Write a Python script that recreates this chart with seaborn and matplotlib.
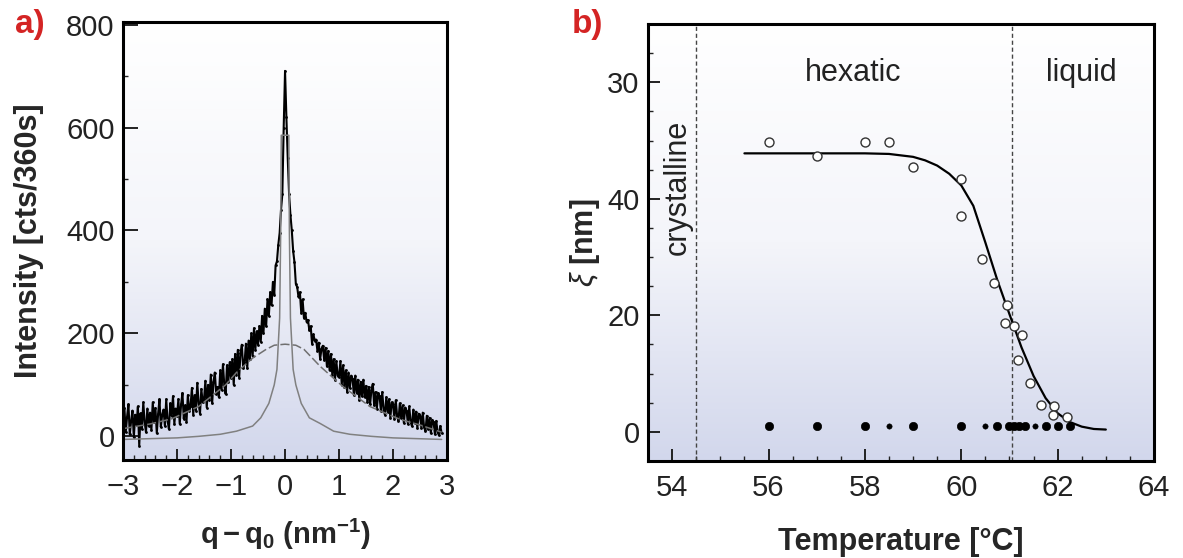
import numpy as np
import pandas as pd
import matplotlib
matplotlib.use("Agg")
import matplotlib.pyplot as plt
from matplotlib.colors import LinearSegmentedColormap
from matplotlib.ticker import MultipleLocator, FixedLocator
import seaborn as sns

# ---- panel a: scattering profile ----
q_start, q_step = -3.0, 0.025
intensity = [
    20, 55, 8, 38, 62, 4, 30, 50, -2, 42,
    22, 58, -18, 45, 14, 66, 28, 8, 54, 20,
    46, 12, 66, 28, 55, 6, 44, 72, 18, 42,
    52, 20, 72, 30, 14, 64, 40, 78, 24, 54,
    40, 72, 24, 62, 84, 34, 60, 28, 80, 50,
    58, 94, 42, 80, 50, 104, 64, 44, 92, 66,
    72, 108, 56, 100, 70, 120, 64, 106, 124, 82,
    96, 76, 128, 90, 140, 100, 82, 138, 106, 144,
    114, 150, 100, 160, 120, 168, 114, 162, 178, 132,
    142, 180, 132, 186, 150, 200, 156, 210, 168, 204,
    178, 214, 184, 234, 200, 248, 214, 266, 234, 280,
    255, 300, 275, 332, 340, 372, 395, 440, 470, 600,
    710, 620, 540, 470, 430, 400, 360, 338, 296, 290,
    270, 280, 240, 266, 230, 240, 222, 226, 206, 214,
    180, 198, 186, 188, 166, 182, 150, 170, 176, 148,
    172, 136, 166, 128, 160, 120, 150, 110, 146, 118,
    116, 146, 100, 138, 96, 128, 86, 124, 94, 118,
    112, 80, 118, 84, 110, 70, 106, 78, 110, 76,
    98, 66, 96, 62, 90, 102, 60, 86, 54, 84,
    78, 50, 86, 52, 42, 76, 48, 72, 36, 66,
    62, 34, 70, 40, 30, 64, 36, 60, 26, 56,
    50, 24, 58, 28, 20, 52, 26, 48, 16, 44,
    40, 16, 46, 18, 10, 40, 14, 36, 6, 32,
    28, 4, 30, 8, 2, 20, 6,
]
q = q_start + q_step * np.arange(len(intensity))

narrow_q = [-3, -2, -1.6, -1.2, -0.9, -0.6, -0.45, -0.3, -0.2, -0.15, -0.1, -0.08, -0.07,
            0.07, 0.08, 0.1, 0.15, 0.2, 0.3, 0.45, 0.65, 0.9, 1.2, 1.6, 2, 2.9]
narrow_I = [-6, -3, 0, 4, 10, 20, 36, 64, 100, 130, 230, 400, 585,
            585, 400, 230, 130, 100, 64, 36, 25, 10, 4, 0, -3, -6]

broad_q = [-3, -2.5, -2.1, -1.6, -1.1, -0.9, -0.6, -0.35, -0.2, 0, 0.2, 0.35, 0.65,
           1.07, 1.57, 2.13, 2.5, 2.9]
broad_I = [15, 24, 34, 58, 100, 124, 152, 169, 177, 179, 177, 169, 136,
           97, 58, 33, 22, 8]

# ---- panel b: correlation length vs temperature ----
open_T = [56.0, 57.0, 58.0, 58.5, 59.0, 60.0, 60.0, 60.43, 60.68, 60.94, 60.9,
          61.1, 61.25, 61.18, 61.43, 61.66, 61.93, 61.9, 62.2]
open_xi = [49.8, 47.4, 49.8, 49.8, 45.4, 43.4, 37.1, 29.6, 25.6, 21.8, 18.7,
           18.1, 16.6, 12.4, 8.4, 4.6, 4.4, 2.9, 2.6]

filled_T = [56.0, 57.0, 58.0, 58.5, 59.0, 60.0, 60.5, 60.75, 61.0, 61.1, 61.2,
            61.33, 61.53, 61.76, 62.0, 62.26]
filled_xi = [1.0] * len(filled_T)
filled_small = [False, False, False, True, False, False, True, False, False, False, False,
                False, True, False, False, False]

fit_T = [55.5, 56, 57, 58, 58.5, 59.0, 59.25, 59.5, 59.75, 60.0, 60.25, 60.5, 60.75,
         61.0, 61.25, 61.5, 61.75, 62.0, 62.25, 62.5, 62.75, 63.0]
fit_xi = [47.8, 47.8, 47.8, 47.8, 47.7, 47.2, 46.6, 45.7, 44.3, 42.3, 38.8, 32.5, 26.0,
          20.2, 14.5, 9.6, 5.8, 3.2, 1.7, 0.9, 0.5, 0.4]

T_crystal, T_liquid = 54.5, 61.05
b_yticks = [0, 20, 40, 60]
b_yticklabels = ["0", "20", "40", "30"]

# ---- style ----
sns.set_theme(style="ticks")
plt.rcParams["font.family"] = ["Liberation Sans", "DejaVu Sans"]
plt.rcParams["mathtext.fontset"] = "custom"
plt.rcParams["mathtext.rm"] = "Liberation Sans"
plt.rcParams["mathtext.bf"] = "Liberation Sans:bold"
plt.rcParams["mathtext.it"] = "Liberation Sans:italic"
plt.rcParams["axes.unicode_minus"] = True

bg = LinearSegmentedColormap.from_list("bg", ["#ffffff", "#f4f5fa", "#d2d7ec"])
grad = np.linspace(0, 1, 256)[:, None]

fig = plt.figure(figsize=(11.83, 5.58), dpi=100)
ax_a = fig.add_axes([0.104, 0.1756, 0.2739, 0.785])
ax_b = fig.add_axes([0.5478, 0.1738, 0.4277, 0.7832])

for ax in (ax_a, ax_b):
    ax.imshow(grad, cmap=bg, extent=[0, 1, 0, 1], transform=ax.transAxes,
              aspect="auto", zorder=0)
    for s in ax.spines.values():
        s.set_linewidth(2.2)
        s.set_color("black")
        s.set_zorder(5)
    ax.tick_params(which="both", direction="in", top=False, right=False,
                   labelsize=21, colors="#222222", width=1.4)
    ax.tick_params(axis="x", which="both", pad=9)
    ax.tick_params(axis="y", which="both", pad=6)

# panel a
df_a = pd.DataFrame({"q": q, "I": intensity})
sns.lineplot(data=df_a, x="q", y="I", ax=ax_a, color="black", lw=1.5,
             marker="o", markersize=2.0, markeredgewidth=0,
             estimator=None, sort=False, zorder=3)
sns.lineplot(x=narrow_q, y=narrow_I, ax=ax_a, color="#808080", lw=1.1,
             estimator=None, sort=False, zorder=4)
sns.lineplot(x=broad_q, y=broad_I, ax=ax_a, color="#707070", lw=1.1,
             estimator=None, sort=False, zorder=4)
ax_a.lines[-1].set_linestyle((0, (6, 2)))

ax_a.set_xlim(-3, 3)
ax_a.set_ylim(-46, 805)
ax_a.xaxis.set_major_locator(MultipleLocator(1))
ax_a.xaxis.set_minor_locator(MultipleLocator(0.2))
ax_a.yaxis.set_major_locator(MultipleLocator(200))
ax_a.yaxis.set_minor_locator(MultipleLocator(100))
ax_a.tick_params(axis="y", which="major", length=11)
ax_a.tick_params(axis="x", which="major", length=8)
ax_a.tick_params(which="minor", length=3.5, width=1.0)
ax_a.set_xlabel(r"$\mathbf{q - q_0\ (nm^{-1})}$", fontsize=21, labelpad=12)
ax_a.set_ylabel("Intensity [cts/360s]", fontsize=22, fontweight="bold", labelpad=16)

# panel b
ax_b.axvline(T_crystal, color="#444444", lw=1.0, ls=(0, (3, 2)), zorder=1)
ax_b.axvline(T_liquid, color="#444444", lw=1.0, ls=(0, (3, 2)), zorder=1)
sns.lineplot(x=fit_T, y=fit_xi, ax=ax_b, color="black", lw=1.6,
             estimator=None, sort=False, zorder=2)
sns.scatterplot(x=open_T, y=open_xi, ax=ax_b, marker="o", s=42, facecolor="white",
                edgecolor="#333333", linewidth=1.0, zorder=3)
big = [not v for v in filled_small]
sns.scatterplot(x=np.array(filled_T)[big], y=np.array(filled_xi)[big], ax=ax_b,
                marker="o", s=36, color="black", edgecolor="black", zorder=3)
sns.scatterplot(x=np.array(filled_T)[filled_small], y=np.array(filled_xi)[filled_small],
                ax=ax_b, marker="o", s=15, color="black", edgecolor="black", zorder=3)

ax_b.set_xlim(53.5, 64)
ax_b.set_ylim(-5, 70)
ax_b.xaxis.set_major_locator(MultipleLocator(2))
ax_b.xaxis.set_minor_locator(MultipleLocator(0.5))
ax_b.yaxis.set_major_locator(FixedLocator(b_yticks))
ax_b.set_yticklabels(b_yticklabels)
ax_b.yaxis.set_minor_locator(MultipleLocator(5))
ax_b.tick_params(which="major", length=8.5)
ax_b.tick_params(which="minor", length=3.5, width=1.0)
ax_b.set_xlabel("Temperature [°C]", fontsize=22, fontweight="bold", labelpad=18)
ax_b.set_ylabel(r"$\xi$ [nm]", fontsize=22, fontweight="bold", labelpad=4)

ax_b.text(57.75, 61.6, "hexatic", fontsize=22, color="#222222", ha="center", va="center")
ax_b.text(62.5, 61.6, "liquid", fontsize=22, color="#222222", ha="center", va="center")
ax_b.text(54.12, 42.0, "crystalline", fontsize=22, color="#222222", ha="center",
          va="center", rotation=90)

fig.text(15 / 1183, 1 - 24 / 558, "a)", fontsize=24, fontweight="bold",
         color="#d42424", ha="left", va="center")
fig.text(572 / 1183, 1 - 24 / 558, "b)", fontsize=24, fontweight="bold",
         color="#d42424", ha="left", va="center")

fig.savefig("out.png", dpi=100)
